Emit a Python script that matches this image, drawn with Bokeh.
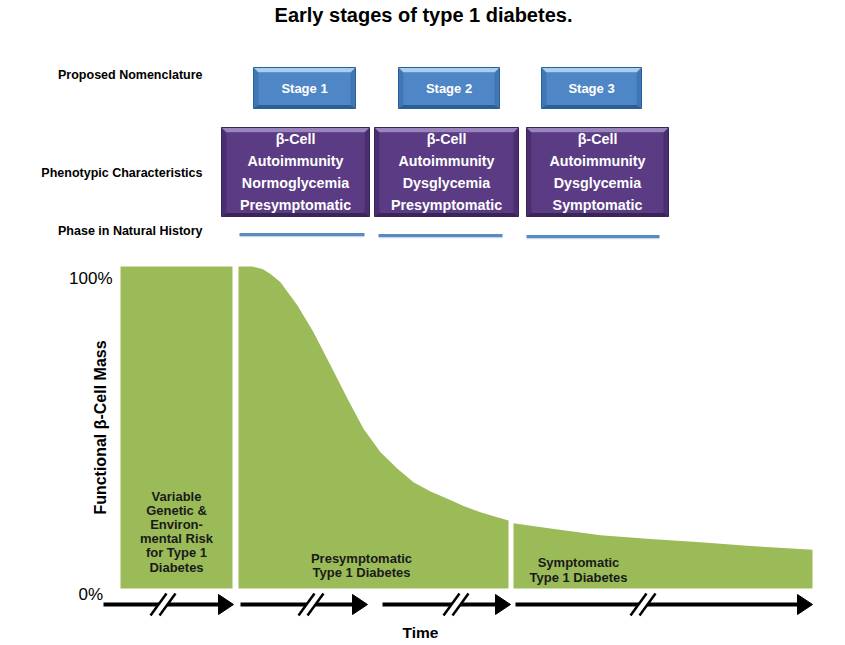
import numpy as np
from bokeh.plotting import figure
from bokeh.models import Range1d
from bokeh.core.properties import value
from bokeh.embed import file_html
from bokeh.resources import INLINE

# ---------------- data ----------------
title = "Early stages of type 1 diabetes."
row_labels = ["Proposed Nomenclature", "Phenotypic Characteristics", "Phase in Natural History"]
stages = ["Stage 1", "Stage 2", "Stage 3"]
phenotypes = [
    ["β-Cell", "Autoimmunity", "Normoglycemia", "Presymptomatic"],
    ["β-Cell", "Autoimmunity", "Dysglycemia", "Presymptomatic"],
    ["β-Cell", "Autoimmunity", "Dysglycemia", "Symptomatic"],
]
phase_texts = [
    ["Variable", "Genetic &", "Environ-", "mental Risk", "for Type 1", "Diabetes"],
    ["Presymptomatic", "Type 1 Diabetes"],
    ["Symptomatic", "Type 1 Diabetes"],
]
# time (arbitrary units) and functional beta-cell mass (%)
time_1 = [120, 232]
mass_1 = [100, 100]
time_2 = [238, 252, 262, 270, 280, 297, 313, 330, 347, 363, 380, 397, 413, 430, 447, 463, 480, 495, 508]
mass_2 = [100, 100, 99.2, 97.7, 95.1, 87.9, 79.6, 69.3, 58.9, 49.6, 42.3, 37.2, 33.0, 30.1, 27.9, 25.6, 23.7, 22.3, 21.1]
time_3 = [513, 550, 600, 650, 700, 750, 812]
mass_3 = [20.3, 18.6, 16.5, 15.4, 14.4, 13.2, 12.0]
y_ticks = [100, 0]
y_tick_labels = ["100%", "0%"]
y_title = "Functional β-Cell Mass"
x_title = "Time"

# ---------------- layout / style ----------------
FONT = value("Liberation Sans")
GREEN = "#9bbb59"
Y0_PIX, PX_PER_PCT = 588, 3.22
W, H = 837, 641

p = figure(width=W, height=H, x_range=Range1d(0, W), y_range=Range1d(H, 0),
           output_backend="svg", toolbar_location=None, min_border=0,
           x_axis_location=None, y_axis_location=None)
p.grid.visible = False
p.outline_line_color = None
p.extra_y_ranges = {"mass": Range1d((Y0_PIX - H) / PX_PER_PCT, Y0_PIX / PX_PER_PCT)}


def txt(x, y, s, size, color="black", align="center", style="bold", angle=0, **kw):
    p.text(x=[x], y=[y], text=[s], text_font=FONT, text_font_size=f"{size}px",
           text_color=color, text_align=align, text_baseline="middle",
           text_font_style=style, angle=angle, **kw)


def bevel_box(x0, y0, x1, y1, main, light, dark, side, b):
    xs = [[x0, x1, x1, x0],
          [x0, x1, x1 - b, x0 + b],
          [x0, x1, x1 - b, x0 + b],
          [x0 + b, x1 - b, x1 - b, x0 + b]]
    ys = [[y0, y0, y1, y1],
          [y0, y0, y0 + b, y0 + b],
          [y1, y1, y1 - b * 0.7, y1 - b * 0.7],
          [y0 + b, y0 + b, y1 - b * 0.7, y1 - b * 0.7]]
    p.patches(xs=xs, ys=ys, fill_color=[side, light, dark, main], line_color=None)
    p.quad(left=[x0], right=[x1], top=[y0], bottom=[y1], fill_color=None,
           line_color=dark, line_width=1)


# title
txt(423, 14, title, 20)

# row labels
for lab, y in zip(row_labels, [74, 172, 230]):
    txt(202, y, lab, 12.5, align="right")

# stage boxes
stage_x = [(253, 355), (398, 499), (541, 641)]
for s, (a, b) in zip(stages, stage_x):
    bevel_box(a, 67, b, 108, "#4f87c6", "#a9cdf0", "#2d5e95", "#3f76b4", 5)
    txt((a + b) / 2, 88, s, 13, color="white")

# phenotype boxes
pheno_x = [(221, 369), (374, 518), (526, 668)]
line_y = [138, 160, 182, 204]
for lines, (a, b) in zip(phenotypes, pheno_x):
    bevel_box(a, 127, b, 216, "#5b3c84", "#9a84bd", "#3a2458", "#4a2f70", 5)
    for ln, y in zip(lines, line_y):
        txt((a + b) / 2, y, ln, 14.3, color="white")

# phase lines
phase_x = [(239, 364), (378, 502), (526, 659)]
for (a, b), y in zip(phase_x, [234, 235, 236]):
    p.segment(x0=[a], x1=[b], y0=[y + 2], y1=[y + 2], line_color="#c9d6e6", line_width=1.5)
    p.segment(x0=[a], x1=[b], y0=[y], y1=[y], line_color="#5a8ac6", line_width=3)

# green beta-cell mass areas
for t, m in [(time_1, mass_1), (time_2, mass_2), (time_3, mass_3)]:
    p.varea(x=t, y1=[0] * len(t), y2=m, fill_color=GREEN, y_range_name="mass")

# y tick labels and title
p.text(x=[112], y=[y_ticks[0]], text=[y_tick_labels[0]], text_font=FONT, text_font_size="17px",
       text_align="right", text_baseline="middle", y_offset=12, y_range_name="mass", text_color="black")
p.text(x=[78], y=[y_ticks[1]], text=[y_tick_labels[1]], text_font=FONT, text_font_size="17px",
       text_align="left", text_baseline="middle", y_offset=6, y_range_name="mass", text_color="black")
p.text(x=[100], y=[50], text=[y_title], text_font=FONT, text_font_size="16px", text_font_style="bold",
       text_align="center", text_baseline="middle", angle=np.pi / 2, y_range_name="mass", text_color="black")

# phase texts
for ln, y in zip(phase_texts[0], [496, 510, 524, 538, 552, 567]):
    txt(176, y, ln, 13, color="#1a1a1a")
for ln, y in zip(phase_texts[1], [558, 572]):
    txt(361, y, ln, 13, color="#1a1a1a")
for ln, y in zip(phase_texts[2], [562, 577]):
    txt(578, y, ln, 13, color="#1a1a1a")

# time arrows with break marks
arrow_start = [103, 240, 382, 515]
arrow_end = [233, 367, 510, 812]
breaks = [150, 298, 443, 630]
AY = 604
for a, b, br in zip(arrow_start, arrow_end, breaks):
    p.segment(x0=[a], x1=[b - 10], y0=[AY], y1=[AY], line_color="black", line_width=4)
    p.patch(x=[b - 15, b, b - 15], y=[AY - 10, AY, AY + 10], fill_color="black", line_color="black")
    p.patch(x=[br, br + 16, br + 25, br + 9], y=[615, 593, 593, 615], fill_color="white", line_color=None)
    p.segment(x0=[br, br + 9], x1=[br + 16, br + 25], y0=[615, 615], y1=[593, 593],
              line_color="black", line_width=2.5)

txt(420, 632, x_title, 15.5)

open("out.html", "w").write(file_html(p, INLINE))
